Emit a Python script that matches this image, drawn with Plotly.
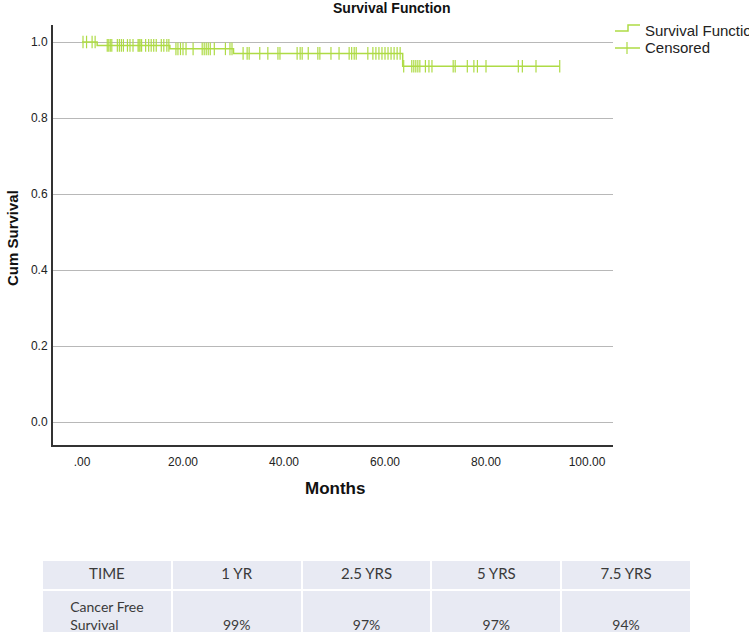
import plotly.graph_objects as go

W, H = 749, 632

# ---- data ----
drop_times = [0.0, 3.0, 17.4, 30.0, 63.5, 94.6]
surv_levels = [1.0, 0.991, 0.982, 0.970, 0.936, 0.936]

censor_times = [
    0.2, 0.9, 2.0, 2.6,
    5.0, 5.3, 5.6, 5.9, 7.0, 7.4, 7.8, 8.2, 9.0, 9.5, 10.1, 11.1, 11.3, 11.5, 11.8,
    12.6, 13.2, 13.7, 14.2, 14.7, 15.7, 16.2, 16.8, 17.2,
    18.6, 19.0, 19.5, 20.0, 20.6, 22.0, 23.8, 24.2, 24.6, 25.0, 25.4, 26.2, 28.4, 29.3, 29.7,
    31.9, 32.7, 33.1, 35.2, 36.8, 38.8, 39.2, 42.6, 43.2, 43.6, 44.8, 46.7, 47.1, 49.3,
    50.9, 52.9, 53.4, 53.9, 54.3, 56.6, 57.6, 58.2, 58.8, 59.4, 60.0, 60.6, 61.2, 61.8,
    62.4, 63.0,
    63.7, 65.3, 65.7, 66.1, 66.5, 66.9, 68.0, 68.7, 69.3, 73.5, 73.9, 76.3, 77.6, 78.3,
    80.0, 86.4, 87.2, 89.9, 94.6,
]

x_tickvals = [0, 20, 40, 60, 80, 100]
x_ticktext = [".00", "20.00", "40.00", "60.00", "80.00", "100.00"]
y_tickvals = [0.0, 0.2, 0.4, 0.6, 0.8, 1.0]
y_ticktext = ["0.0", "0.2", "0.4", "0.6", "0.8", "1.0"]

table_header = ["TIME", "1 YR", "2.5 YRS", "5 YRS", "7.5 YRS"]
table_row = ["Cancer Free<br>Survival", "\u00a0<br>99%", "\u00a0<br>97%", "\u00a0<br>97%", "\u00a0<br>94%"]


def surv_at(t):
    s = surv_levels[0]
    for dt, lv in zip(drop_times, surv_levels):
        if dt <= t:
            s = lv
    return s


censor_vals = [surv_at(t) for t in censor_times]

GREEN = "#aedb45"
SANS = "Liberation Sans, Arial, sans-serif"
TABLE_FONT = "Lato, Carlito, sans-serif"


def px(x):
    return x / W


def py(y):
    return 1 - y / H


fig = go.Figure()
fig.add_trace(go.Scatter(x=drop_times, y=surv_levels, mode="lines",
                         line=dict(color=GREEN, width=1.5, shape="hv"),
                         name="Survival Function", showlegend=False, hoverinfo="skip"))
fig.add_trace(go.Scatter(x=censor_times, y=censor_vals, mode="markers",
                         marker=dict(symbol="line-ns", size=9,
                                     line=dict(color=GREEN, width=1.2)),
                         name="Censored", showlegend=False, hoverinfo="skip"))

fig.add_trace(go.Table(
    domain=dict(x=[px(42), px(691)], y=[0, py(560)]),
    columnwidth=[1, 1, 1, 1, 1],
    header=dict(values=table_header, fill_color="#e8eaf3",
                line=dict(color="white", width=2), height=30,
                font=dict(family=TABLE_FONT, size=15, color="#3a3a3a"),
                align="center"),
    cells=dict(values=[[v] for v in table_row], fill_color="#e8eaf3",
               line=dict(color="white", width=2), height=44,
               font=dict(family=TABLE_FONT, size=14, color="#3a3a3a"),
               align="center"),
))

x0_px, x1_px = 53, 613
y0_px, y1_px = 445, 25
x_per_px = 1 / 5.05
fig.update_layout(
    width=W, height=H,
    margin=dict(l=0, r=0, t=0, b=0),
    paper_bgcolor="white", plot_bgcolor="white",
    showlegend=False,
    xaxis=dict(domain=[px(x0_px), px(x1_px)],
               range=[(x0_px - 82) * x_per_px, (x1_px - 82) * x_per_px],
               tickvals=x_tickvals, ticktext=x_ticktext,
               showgrid=False, zeroline=False,
               showline=True, linecolor="#333333", linewidth=2,
               ticks="outside", ticklen=5, tickcolor="rgba(0,0,0,0)",
               tickfont=dict(family=SANS, size=12, color="#222222"),
               automargin=False),
    yaxis=dict(domain=[py(y0_px), py(y1_px)],
               range=[-(y0_px - 422) / 380, 1 + (42 - y1_px) / 380],
               tickvals=y_tickvals, ticktext=y_ticktext,
               showgrid=True, gridcolor="#b8b8b8", gridwidth=1,
               zeroline=False,
               showline=True, linecolor="#333333", linewidth=2,
               ticks="outside", ticklen=1, tickcolor="rgba(0,0,0,0)",
               tickfont=dict(family=SANS, size=12, color="#222222"),
               automargin=False),
)

annotations = [
    dict(text="<b>Survival Function</b>", x=px(392), y=py(8), xref="paper", yref="paper",
         showarrow=False, xanchor="center", yanchor="middle",
         font=dict(family=SANS, size=14, color="#111111")),
    dict(text="<b>Cum Survival</b>", x=px(12), y=py(238), xref="paper", yref="paper",
         showarrow=False, xanchor="center", yanchor="middle", textangle=-90,
         font=dict(family=SANS, size=15, color="#111111")),
    dict(text="<b>Months</b>", x=px(335), y=py(488), xref="paper", yref="paper",
         showarrow=False, xanchor="center", yanchor="middle",
         font=dict(family=SANS, size=17, color="#111111")),
    dict(text="Survival Function", x=px(643), y=py(30), xref="paper", yref="paper",
         showarrow=False, xanchor="left", yanchor="middle",
         font=dict(family=SANS, size=15, color="#222222")),
    dict(text="Censored", x=px(643), y=py(48), xref="paper", yref="paper",
         showarrow=False, xanchor="left", yanchor="middle",
         font=dict(family=SANS, size=15, color="#222222")),
]
fig.update_layout(annotations=annotations)

shapes = [
    dict(type="path", xref="paper", yref="paper",
         path=f"M {px(615)},{py(31)} L {px(628)},{py(31)} L {px(628)},{py(25)} L {px(640)},{py(25)}",
         line=dict(color=GREEN, width=1.5)),
    dict(type="line", xref="paper", yref="paper", x0=px(615), x1=px(640), y0=py(48), y1=py(48),
         line=dict(color=GREEN, width=1.5)),
    dict(type="line", xref="paper", yref="paper", x0=px(627), x1=px(627), y0=py(42), y1=py(54),
         line=dict(color=GREEN, width=1.2)),
]
fig.update_layout(shapes=shapes)

# remove the browser's default 8px page margin so the figure fills the window
fig.write_html("out.html",
               config={"displayModeBar": False},
               post_script="document.body.style.margin='0';document.body.style.overflow='hidden';")
